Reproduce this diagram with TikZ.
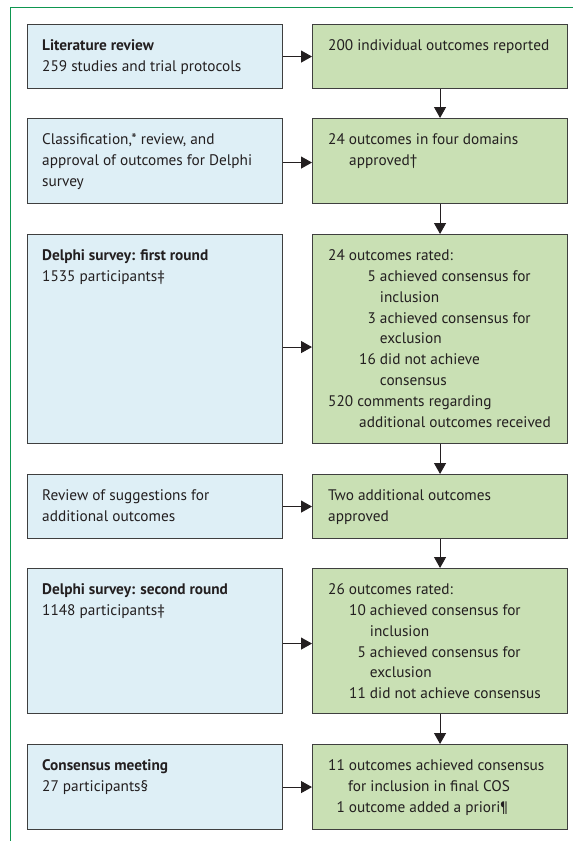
\documentclass[tikz,border=0pt]{standalone}
\usepackage{fontspec}
\setmainfont{PT Sans}
\usetikzlibrary{arrows.meta}
\definecolor{framegreen}{HTML}{0E9650}
\definecolor{lblue}{HTML}{DEEFF6}
\definecolor{lgreen}{HTML}{C9E0B4}
\definecolor{edgegray}{HTML}{3F3F3F}
\definecolor{ink}{HTML}{231F20}
\begin{document}
\begin{tikzpicture}[x=1pt,y=-1pt,
  box/.style={draw=edgegray, line width=1.1pt, minimum width=255pt, inner sep=0pt, anchor=north west},
  lbox/.style={box, fill=lblue},
  rbox/.style={box, fill=lgreen},
  txt/.style={anchor=north west, inner sep=0pt, align=left, text=ink,
    font=\fontsize{15.3}{20.8}\selectfont},
  arr/.style={line width=0.9pt, draw=ink, -{Triangle[width=12pt,length=11pt]}}
]
\useasboundingbox (0,0) rectangle (573,841);
\draw[framegreen, line width=1pt] (10,841) -- (10,7) -- (573,7);

% left boxes
\node[lbox, minimum height=64pt]  (L1) at (27,24)  {};
\node[lbox, minimum height=85pt]  (L2) at (27,118) {};
\node[lbox, minimum height=209pt] (L3) at (27,234) {};
\node[lbox, minimum height=64pt]  (L4) at (27,474) {};
\node[lbox, minimum height=145pt] (L5) at (27,568) {};
\node[lbox, minimum height=85pt]  (L6) at (27,744) {};
% right boxes
\node[rbox, minimum height=64pt]  (R1) at (312,24)  {};
\node[rbox, minimum height=85pt]  (R2) at (312,118) {};
\node[rbox, minimum height=209pt] (R3) at (312,234) {};
\node[rbox, minimum height=64pt]  (R4) at (312,474) {};
\node[rbox, minimum height=145pt] (R5) at (312,568) {};
\node[rbox, minimum height=85pt]  (R6) at (312,744) {};

% left texts
\node[txt] (tL1) at ([xshift=15pt,yshift=-15.5pt]L1.north west)
  {\textbf{Literature review}\\259 studies and trial protocols};
\node[txt] (tL2) at ([xshift=15pt,yshift=-15.5pt]L2.north west)
  {Classification,* review, and\\approval of outcomes for Delphi\\survey};
\node[txt] (tL3) at ([xshift=15pt,yshift=-15.5pt]L3.north west)
  {\textbf{Delphi survey: first round}\\1535 participants‡};
\node[txt] (tL4) at ([xshift=15pt,yshift=-15.5pt]L4.north west)
  {Review of suggestions for\\additional outcomes};
\node[txt] (tL5) at ([xshift=15pt,yshift=-15.5pt]L5.north west)
  {\textbf{Delphi survey: second round}\\1148 participants‡};
\node[txt] (tL6) at ([xshift=15pt,yshift=-15.5pt]L6.north west)
  {\textbf{Consensus meeting}\\27 participants§};

% right texts
\node[txt] (tR1) at ([xshift=16pt,yshift=-15.5pt]R1.north west)
  {200 individual outcomes reported};
\node[txt] (tR2) at ([xshift=16pt,yshift=-15.5pt]R2.north west)
  {24 outcomes in four domains\\\hspace*{21pt}approved†};
\node[txt] (tR3) at ([xshift=16pt,yshift=-15.5pt]R3.north west)
  {24 outcomes rated:\\
   \hspace*{31pt}\phantom{1}5 achieved consensus for\\
   \hspace*{31pt}\phantom{16 }inclusion\\
   \hspace*{31pt}\phantom{1}3 achieved consensus for\\
   \hspace*{31pt}\phantom{16 }exclusion\\
   \hspace*{31pt}16 did not achieve\\
   \hspace*{31pt}\phantom{16 }consensus\\
   520 comments regarding\\
   \hspace*{31pt}additional outcomes received};
\node[txt] (tR4) at ([xshift=16pt,yshift=-15.5pt]R4.north west)
  {Two additional outcomes\\approved};
\node[txt] (tR5) at ([xshift=16pt,yshift=-15.5pt]R5.north west)
  {26 outcomes rated:\\
   \hspace*{21pt}10 achieved consensus for\\
   \hspace*{21pt}\phantom{10 }inclusion\\
   \hspace*{21pt}\phantom{1}5 achieved consensus for\\
   \hspace*{21pt}\phantom{10 }exclusion\\
   \hspace*{21pt}11 did not achieve consensus};
\node[txt] (tR6) at ([xshift=16pt,yshift=-15.5pt]R6.north west)
  {11 outcomes achieved consensus\\
   \hspace*{20pt}for inclusion in final COS\\
   \phantom{1}1 outcome added a priori¶};

% horizontal arrows
\draw[arr] (L1.east) -- (R1.west);
\draw[arr] ([yshift=-1.5pt]L2.east) -- ([yshift=-1.5pt]R2.west);
\draw[arr] ([yshift=-8pt]L3.east) -- ([yshift=-8pt]R3.west);
\draw[arr] (L4.east) -- (R4.west);
\draw[arr] ([yshift=-2.5pt]L5.east) -- ([yshift=-2.5pt]R5.west);
\draw[arr] (L6.east) -- (R6.west);
% vertical arrows
\draw[arr] (R1.south) -- (R2.north);
\draw[arr] (R2.south) -- (R3.north);
\draw[arr] (R3.south) -- (R4.north);
\draw[arr] (R4.south) -- (R5.north);
\draw[arr] (R5.south) -- (R6.north);
\end{tikzpicture}
\end{document}
